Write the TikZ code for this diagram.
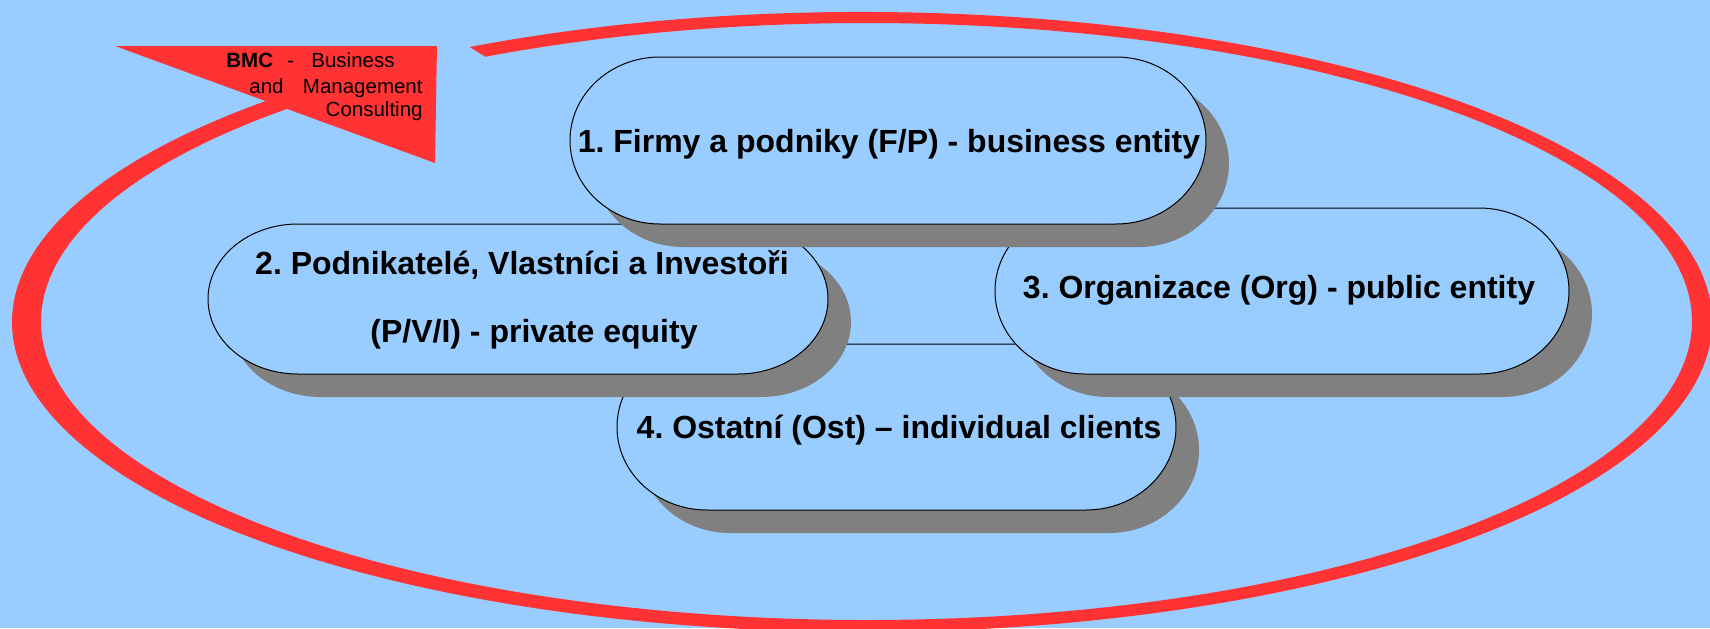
\documentclass[tikz,border=0pt]{standalone}
\usepackage{fontspec}
\setmainfont{Liberation Sans}
\frenchspacing
\definecolor{bgblue}{HTML}{99CCFF}
\definecolor{ringred}{HTML}{FF3333}
\definecolor{shadowgray}{HTML}{808080}
\tikzset{
  lbl/.style={font=\fontsize{16pt}{19pt}\selectfont\bfseries, inner sep=0pt, anchor=base},
  bmctxt/.style={font=\fontsize{10.25pt}{12pt}\selectfont, inner sep=0pt},
  pillline/.style={fill=bgblue, draw=black, line width=0.5pt},
  pillshadow/.style={fill=shadowgray},
}
% x1 y1 x2 y2 rx ry
\newcommand\drawpill[6]{%
  \begin{scope}[shift={(23,23)}]
    \fill[pillshadow] ({#1+#5},#2) -- ({#3-#5},#2)
      arc[start angle=-90,end angle=90,x radius=#5,y radius=#6]
      -- ({#1+#5},#4)
      arc[start angle=90,end angle=270,x radius=#5,y radius=#6] -- cycle;
  \end{scope}
  \draw[pillline] ({#1+#5},#2) -- ({#3-#5},#2)
      arc[start angle=-90,end angle=90,x radius=#5,y radius=#6]
      -- ({#1+#5},#4)
      arc[start angle=90,end angle=270,x radius=#5,y radius=#6] -- cycle;
}
\begin{document}
\begin{tikzpicture}[x=0.5pt,y=-0.5pt]
\useasboundingbox (0,0) rectangle (1710,628);
\fill[bgblue] (0,0) rectangle (1710,628);
\clip (0,0) rectangle (1710,628);

% red ring
\fill[ringred] ([shift={(-117.5:850 and 310)}]862,322)
  arc[start angle=-117.5,end angle=230,x radius=850,y radius=310]
  -- ([shift={(230:825.5 and 298.5)}]866.5,321.5)
  arc[start angle=230,end angle=-117.5,x radius=825.5,y radius=298.5] -- cycle;

% arrow head / flag
\fill[ringred] (115,46) -- (437,46) -- (435,163) -- cycle;

% BMC text
\node[bmctxt, anchor=base west] (bmc) at (226,67) {\textbf{BMC}};
\node[bmctxt, anchor=base west] (dash) at (287,67) {-};
\node[bmctxt, anchor=base west] (bus) at (311,67) {Business};
\node[bmctxt, anchor=base west] (and) at (249,93) {and};
\node[bmctxt, anchor=base east] (man) at (423,93) {Management};
\node[bmctxt, anchor=base east] (con) at (423,116) {Consulting};

% shape 4
\drawpill{617}{344}{1176}{510}{90}{83}
\node[lbl] (t4) at (899,438) {4. Ostatní (Ost) – individual clients};

% shape 2
\drawpill{208}{224}{828}{374}{90}{75}
\node[lbl] (t2a) at (522,274) {2. Podnikatelé, Vlastníci a Investoři};
\node[lbl] (t2b) at (534,342) {(P/V/I) - private equity};

% shape 3
\drawpill{995}{208}{1569}{374}{90}{83}
\node[lbl] (t3) at (1279,298) {3. Organizace (Org) - public entity};

% shape 1
\drawpill{570}{57}{1206}{224}{90}{83.5}
\node[lbl] (t1) at (889,152) {1. Firmy a podniky (F/P) - business entity};
\end{tikzpicture}
\end{document}
